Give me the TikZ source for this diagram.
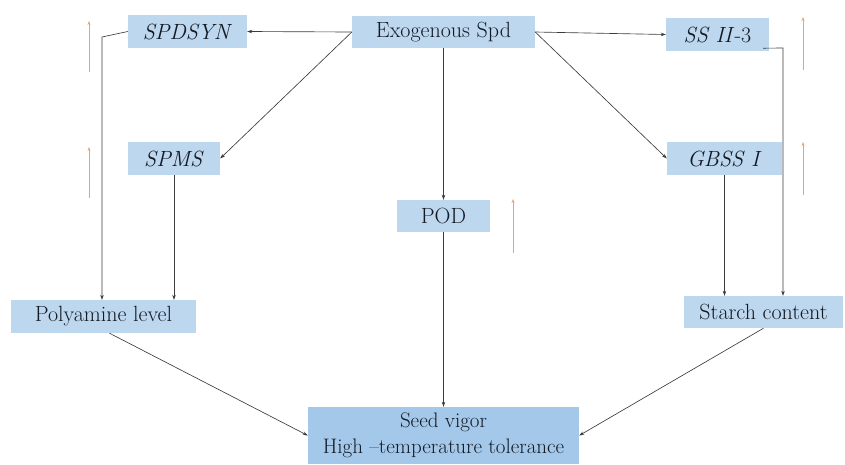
\documentclass[tikz,border=0pt]{standalone}
\usetikzlibrary{arrows.meta}
\definecolor{boxblue}{HTML}{BDD7EE}
\definecolor{seedblue}{HTML}{A4C8EA}
\definecolor{textdark}{HTML}{141A24}
\definecolor{linegray}{HTML}{3C3C3C}
\definecolor{uporange}{HTML}{F0A070}
\begin{document}
\begin{tikzpicture}[x=1pt,y=-1pt,
  box/.style={fill=boxblue, inner sep=0pt, text=textdark, font=\fontsize{22}{25}\selectfont},
  conn/.style={draw=linegray, line width=0.65pt, -{Stealth[length=5pt,width=3.5pt]}},
  uparrow/.style={draw=uporange, line width=0.6pt, -{Stealth[length=4pt,width=3pt]}}]
\useasboundingbox (0,0) rectangle (845,464);

\node[box, minimum width=119pt, minimum height=33pt] (spdsyn) at (187.5,31.5) {\textit{SPDSYN}};
\node[box, minimum width=183pt, minimum height=32pt] (exo) at (443.5,32) {Exogenous Spd};
\node[box, minimum width=103pt, minimum height=33pt] (ss) at (717.5,34.5) {\textit{SS II}-3};
\node[box, minimum width=92pt, minimum height=33pt] (spms) at (174,158.5) {\textit{SPMS}};
\node[box, minimum width=115pt, minimum height=33pt] (gbss) at (724.5,158.5) {\textit{GBSS I}};
\node[box, minimum width=93pt, minimum height=32pt] (pod) at (443.5,216) {POD};
\node[box, minimum width=185pt, minimum height=33pt] (poly) at (103.5,316.5) {Polyamine level};
\node[box, minimum width=159pt, minimum height=32pt] (starch) at (763.5,312) {Starch content};
\node[box, fill=seedblue, minimum width=271pt, minimum height=57pt, align=center,
      font=\fontsize{21}{26}\selectfont] (seed) at (443.5,435.5) {Seed vigor\\High --temperature tolerance};

\coordinate (bendA) at (102,37);
\coordinate (bendB) at (783,48);

\draw[conn] (exo.west) -- (spdsyn.east);
\draw[conn] (exo.west) -- (spms.east);
\draw[conn] (exo.east) -- (ss.west);
\draw[conn] (exo.east) -- (gbss.west);
\draw[conn] (exo.south) -- (pod.north);
\draw[conn] (spdsyn.west) -- (bendA) -- (bendA |- poly.north);
\draw[conn] (spms.south) -- (spms.south |- poly.north);
\draw[conn] ([xshift=-6pt,yshift=3pt]ss.south east) -- (bendB) -- (bendB |- starch.north);
\draw[conn] (gbss.south) -- (gbss.south |- starch.north);
\draw[conn] ([xshift=6pt]poly.south) -- (seed.west);
\draw[conn] (pod.south) -- (seed.north);
\draw[conn] (starch.south) -- (seed.east);

\draw[uparrow] (89,72) -- (89,21);
\draw[uparrow] (89,198) -- (89,147);
\draw[uparrow] (513,253) -- (513,199);
\draw[uparrow] (803,70) -- (803,17);
\draw[uparrow] (803,195) -- (803,142);
\end{tikzpicture}
\end{document}
